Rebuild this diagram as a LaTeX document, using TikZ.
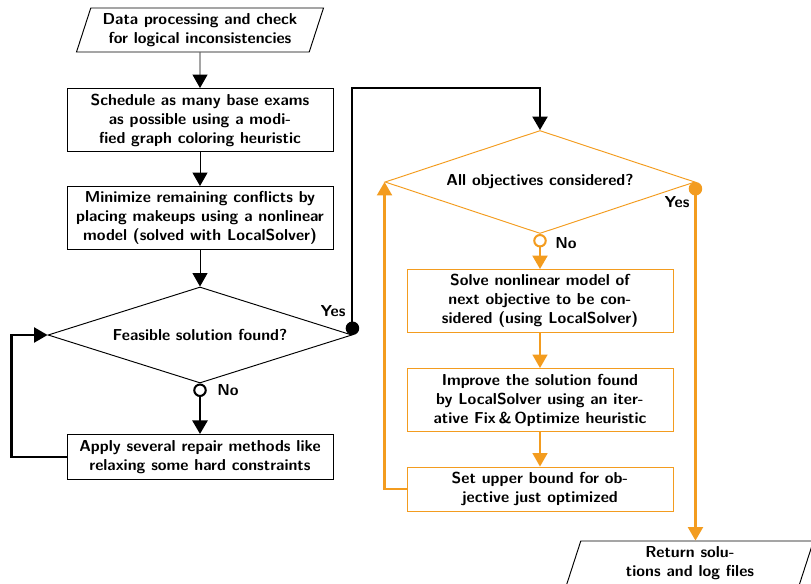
\documentclass[tikz,border=0pt]{standalone}
\usepackage{tikz}
\usetikzlibrary{shapes.geometric,arrows.meta}
\definecolor{flowor}{RGB}{243,156,31}
\begin{document}
\begin{tikzpicture}[x=0.63pt, y=-0.63pt, every node/.style={font=\sffamily\bfseries, align=center},
    >={Triangle[width=9.5pt,length=8.5pt]},
    box/.style={draw, line width=0.6pt, minimum width=167.6pt, minimum height=39.7pt, inner sep=2pt},
    iobox/.style={draw, trapezium, trapezium left angle=72, trapezium right angle=108,
      trapezium stretches body, minimum width=155.6pt, minimum height=27.7pt, line width=0.6pt},
    decision/.style={draw, diamond, line width=0.6pt, inner sep=0pt},
    loopline/.style={line width=1.3pt},
    yesdot/.style={{Circle[length=8.5pt]}->},
    nodot/.style={{Circle[open,length=8.5pt]}->}]
    \useasboundingbox (0,0) rectangle (811,584);

    % main flow
    \node[iobox] (start) at (200,30) {Data processing and check\\for logical inconsistencies};
    \node[box] (base) at (200,120) {Schedule as many base exams\\as possible using a modi-\\fied graph coloring heuristic};
    \node[box] (makeup) at (200,218) {Minimize remaining conflicts by\\placing makeups using a nonlinear\\model (solved with LocalSolver)};
    \node[decision, aspect=3.17, minimum width=191.5pt, minimum height=60.5pt] (feas) at (200,335) {Feasible solution found?};
    \node[box, minimum height=28.4pt] (repair) at (200,457) {Apply several repair methods like\\relaxing some hard constraints};

    % objectives loop
    \node[decision, draw=flowor, aspect=3.0, minimum width=195.3pt, minimum height=64.9pt] (allobj) at (540,182) {All objectives considered?};
    \node[box, draw=flowor] (solve) at (540,301) {Solve nonlinear model of\\next objective to be con-\\sidered (using LocalSolver)};
    \node[box, draw=flowor] (improve) at (540,400) {Improve the solution found\\by LocalSolver using an iter-\\ative Fix\,\&\,Optimize heuristic};
    \node[box, draw=flowor, minimum height=27.7pt] (bound) at (540,489) {Set upper bound for ob-\\jective just optimized};
    \node[iobox] (finish) at (690,563) {Return solu-\\tions and log files};

    \coordinate (turn) at (540,88);

    \draw[->, line width=0.6pt] (start) -- (base);
    \draw[->, line width=0.6pt] (base) -- (makeup);
    \draw[->, line width=0.6pt] (makeup) -- (feas);
    \draw[nodot, loopline] (feas.south) -- (repair);
    \draw[->, loopline] (repair.west) -- ++(-55,0) |- (feas.west);
    \draw[yesdot, loopline] (feas.east) |- (turn) -- (allobj.north);

    \draw[nodot, flowor, loopline] (allobj.south) -- (solve);
    \draw[->, flowor, line width=0.9pt] (solve) -- (improve);
    \draw[->, flowor, line width=0.9pt] (improve) -- (bound);
    \draw[->, flowor, loopline] (bound.west) -| (allobj.west);
    \draw[yesdot, flowor, loopline] (allobj.east) -- (allobj.east |- finish.north);

    \node (yesA) at (333,311) {Yes};
    \node (noA) at (228,390) {No};
    \node (yesB) at (677,202) {Yes};
    \node (noB) at (566,243) {No};
\end{tikzpicture}
\end{document}
